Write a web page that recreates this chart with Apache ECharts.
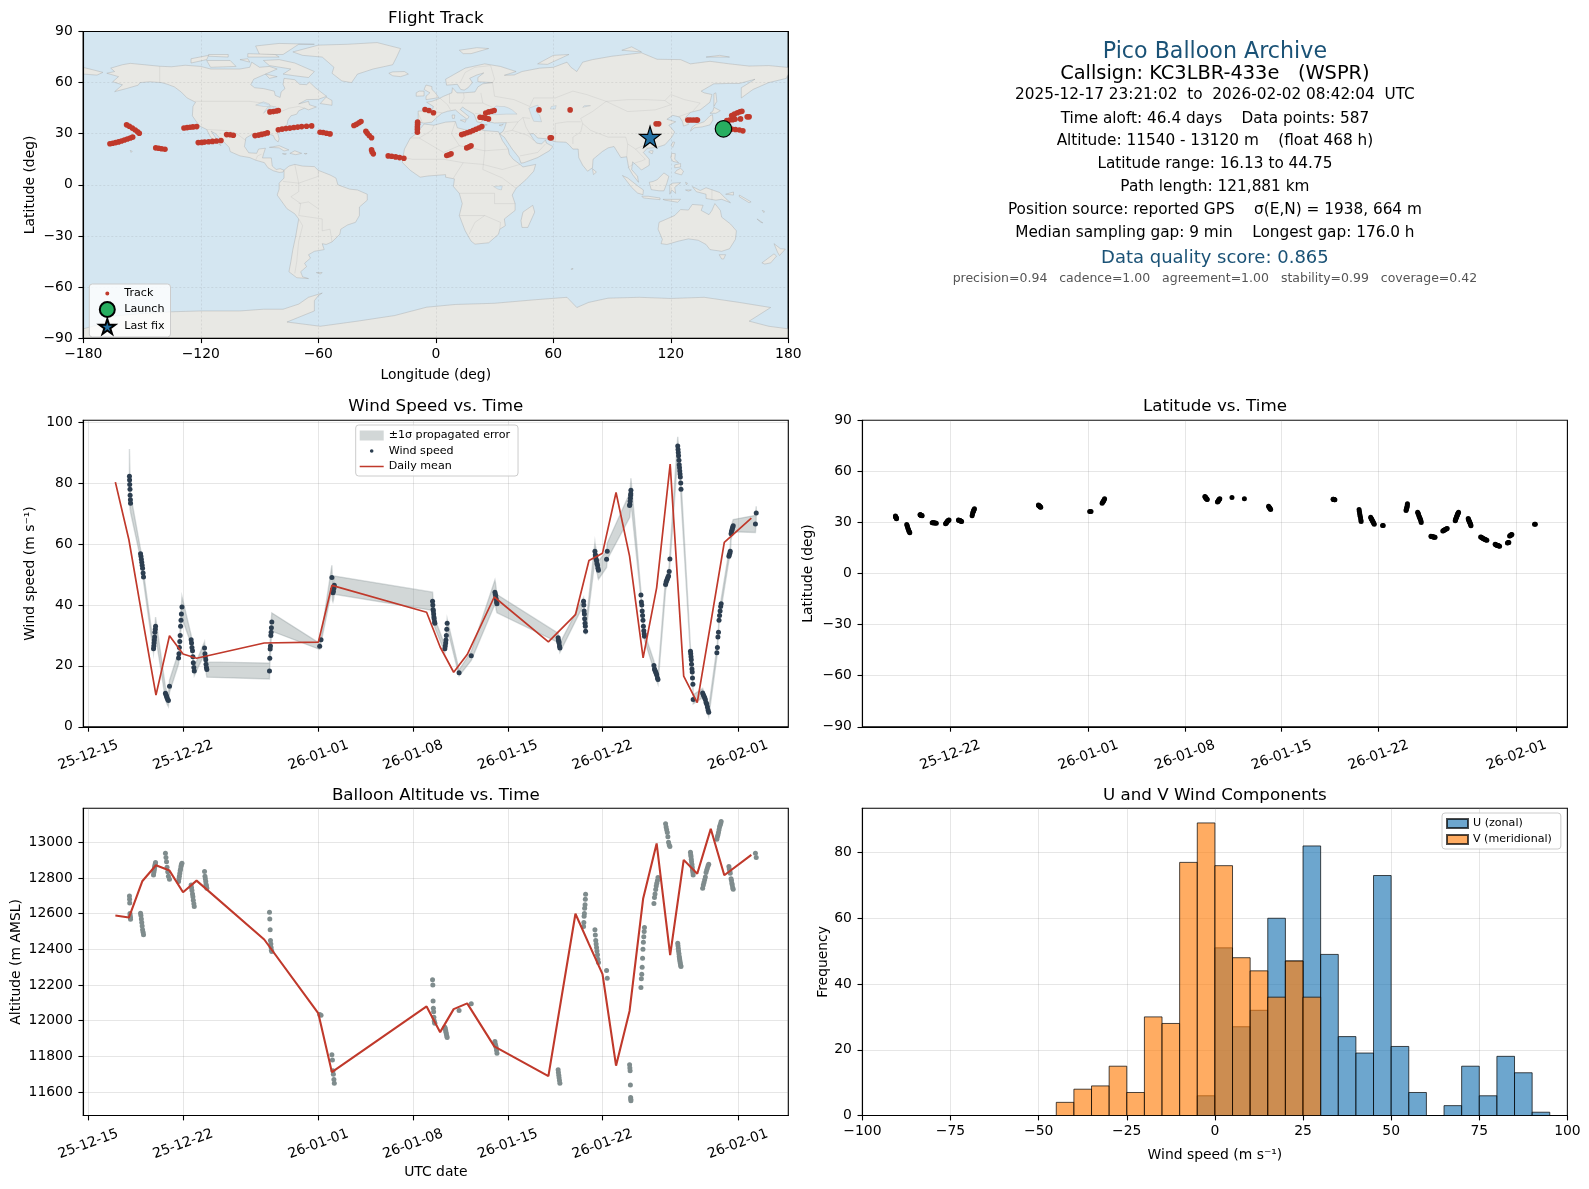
<!DOCTYPE html>
<html><head><meta charset="utf-8">
<style>html,body{margin:0;padding:0;background:#fff}#c{width:1589px;height:1189px}</style>
<script src="https://cdn.jsdelivr.net/npm/echarts@6/dist/echarts.min.js"></script>
</head><body><div id="c"></div>
<script>
// ---------- time samples (days relative to 2026-01-01 UTC), one per plotted fix ----------
const sampleDay = [
-13.96,-13.95,-13.94,-13.92,-13.91,-13.89,-13.88,
-13.14,-13.11,-13.08,-13.05,-13.02,-12.99,-12.95,-12.92,
-12.18,-12.16,-12.14,-12.12,-12.10,-12.08,-12.05,-12.03,
-11.30,-11.26,-11.22,-11.18,-11.13,-11.08,-11.00,
-10.33,-10.30,-10.27,-10.24,-10.21,-10.18,-10.15,-10.12,-10.08,
-9.40,-9.37,-9.34,-9.30,-9.27,-9.24,-9.20,-9.17,
-8.41,-8.38,-8.35,-8.32,-8.30,-8.27,-8.24,
-3.61,-3.59,-3.56,-3.54,-3.51,-3.49,-3.47,-3.44,
0.10,0.20,
1.00,1.04,1.08,1.11,1.15,1.18,
8.44,8.46,8.48,8.50,8.52,8.54,8.56,8.59,8.61,
9.35,9.38,9.41,9.43,9.46,9.49,9.52,
10.40,11.30,
13.05,13.08,13.11,13.14,13.17,13.20,
17.72,17.74,17.77,17.79,17.82,17.85,
19.60,19.62,19.64,19.66,19.68,19.71,19.73,19.75,
20.44,20.47,20.50,20.53,20.56,20.59,20.63,20.66,20.70,
21.30,21.35,
23.00,23.02,23.04,23.06,23.08,23.09,23.10,
23.84,23.87,23.90,23.93,23.96,23.99,24.02,24.05,24.08,24.10,
24.80,24.84,24.88,24.93,24.97,25.01,25.06,25.10,
25.66,25.70,25.74,25.79,25.83,25.88,25.93,25.98,
26.56,26.58,26.60,26.62,26.65,26.67,26.69,26.71,26.73,26.75,26.78,26.80,
27.50,27.52,27.54,27.56,27.58,27.61,27.63,27.65,27.68,27.70,
28.40,28.45,28.50,28.55,28.60,28.65,28.70,28.75,28.80,28.85,
29.45,29.49,29.53,29.57,29.61,29.65,29.69,29.73,29.77,
30.34,30.37,30.41,30.44,
30.50,30.53,30.56,30.59,30.62,30.66,
32.30,32.36];
const windSpeed = [
82.2,81,79.5,78,76,74.5,73.4,
56.8,56,55,54,53,52,50.5,49.2,
25.6,26.5,27.5,28.5,29.5,31,32,33,
11,10.5,10,9.5,9,8.6,13.3,
22.6,24,26,28,30,33,35,37,39.3,
28.6,27.5,26,25,23,21,19.5,18.3,
25.9,24,23,22,20.5,19.5,18.8,
18.3,22.5,25.5,26.5,30,31,32.5,34.4,
26.4,28.6,
49,45,44,44.5,45.5,46.5,
41.2,40,38.5,38,37,36,35.5,34.5,34,
25.6,26.5,27.5,28.5,30,32,34,
17.7,23.3,
44.2,43.5,43,42,41,40.4,
29.2,28.5,28,27.5,26.5,25.9,
41.2,40,38,37,35.5,34,33,31.4,
57.6,56.5,56,55,54.5,53.5,53,52,51.4,
55,57.6,
72.6,73,74,75,76,76.5,77.6,
43.3,41,40,38,36.5,35,33,31.5,30.5,29.7,
20.1,19,18.5,18,17.5,17,16,15.5,
46.7,47.5,48,48.5,49,49.5,51,55.1,
92.2,91,90,89,87.5,86,85,84,83,82,80,78,
24.8,24,23,22,20.5,19,18,16,14,9,
11.1,10.5,10,9.5,9,8,7.5,6.5,5.5,4.8,
24.3,26,29.5,31,35,36.5,38,39.5,40.4,
56,56.5,57,57.6,
63.4,64,64.5,65,65.5,66,
66.6,70.2];
const windSigma = [
9,8,7,5,4,3,3,
1.5,1.5,1.5,1.5,1.5,1.5,1.5,1.5,
1.5,1.5,1.5,1.5,2,2,2.5,3,
2,2,2,2,2,2,2,
2,2,2,2.5,2.5,2.5,3,3,3.5,
1.5,1.5,1.5,1.5,1.5,1.5,1.5,1.5,
2,2,2,2,2,2.5,2.5,
2.6,2.6,2.8,2.8,3,3,3,3,
1,1,
4,3.5,3,3,3,3,
3,3,2.5,2.5,2,2,2,1.5,1.5,
1.2,1.2,1.2,1.2,1.2,1.5,1.5,
1,1.5,
4,4,3.5,3.5,3,3,
1.5,1.5,1.5,1.5,1.5,1.5,
1.2,1.2,1.2,1.2,1.2,1.2,1.2,1.2,
3,3,3,3,3,3,3,3,3,
2.7,2.7,
4,4,4,4,4,4,4,
1.2,1.2,1.2,1.2,1.2,1.2,1.2,1.2,1.2,1.2,
1.5,1.5,1.5,1.5,1.5,1.5,1.5,1.5,
2,2,2,2,2,2,2,2,
3,3,3,3,3,3,3,3,3,3,3,3,
1.2,1.2,1.2,1.2,1.2,1.2,1.2,1.2,1.2,1.5,
1.5,1.5,1.5,1.5,1.5,1.5,1.5,1.5,1.5,1.5,
1.5,1.5,1.5,1.5,1.5,1.5,1.5,1.5,1.5,
1.5,1.5,1.5,1.5,
2,2,2,2,2,2,
2.8,2.2];
const altitude = [
12699,12680,12660,12600,12590,12580,12569,
12602,12590,12570,12550,12530,12510,12495,12481,
12817,12830,12840,12850,12860,12870,12880,12886,
12938,12915,12890,12860,12835,12810,12793,
12780,12795,12810,12825,12840,12850,12865,12875,12882,
12761,12745,12730,12710,12695,12675,12655,12640,
12836,12810,12795,12780,12765,12755,12742,
12608,12570,12510,12450,12430,12410,12395,12388,
12035,12030,
11809,11780,11720,11700,11670,11650,
12229,12200,12110,12070,12050,12020,12000,11990,11986,
11964,11955,11945,11935,11925,11915,11906,
12057,12095,
11884,11870,11860,11850,11835,11818,
11725,11710,11695,11680,11665,11650,
12528,12550,12585,12600,12630,12650,12680,12709,
12509,12480,12450,12430,12410,12390,12370,12345,12326,
12281,12238,
11753,11735,11720,11640,11570,11560,11552,
12186,12235,12260,12300,12350,12400,12440,12470,12500,12522,
12657,12690,12710,12735,12755,12770,12785,12802,
13103,13085,13070,13055,13030,13000,12985,12976,
12434,12420,12405,12390,12375,12360,12350,12340,12330,12320,12310,12304,
12944,12930,12920,12905,12890,12875,12860,12845,12830,12817,
12742,12760,12775,12790,12805,12830,12845,12855,12868,12877,
13017,13030,13040,13055,13070,13085,13095,13105,13116,
12864,12850,12838,12826,
12795,12785,12770,12760,12745,12737,
12938,12914];
const latitude = [
33.8,33.5,33.2,33,32.8,32.5,32.2,
28.8,28,27.3,26.5,25.8,25,24.5,24,
34.6,34.5,34.4,34.3,34.3,34.2,34.1,34,
29.9,29.9,29.8,29.8,29.7,29.7,29.6,
29.3,29.6,29.9,30.2,30.5,30.8,31,31.3,31.5,
31.4,31.3,31.2,31.1,31,30.9,30.7,30.5,
34,35,36,36.5,37,37.5,38,
40.2,40,39.8,39.6,39.5,39.3,39.1,39,
36.5,36.5,
41.3,41.8,42.3,42.8,43.3,43.9,
45.2,45,44.8,44.5,44.3,44.1,43.9,43.7,43.5,
42,42.3,42.6,43,43.3,43.7,44,
44.7,44,
39.5,39.1,38.8,38.4,38,37.6,
43.6,43.6,43.5,43.5,43.4,43.4,
37.6,36.6,35.6,34.6,33.6,32.6,31.5,30.5,
33,32.5,32,31.6,31.1,30.6,30.1,29.5,29,
28.2,28.2,
37,37.6,38.2,38.8,39.4,40.2,41,
36,35.4,34.8,34,33.4,32.8,32.2,31.6,30.8,30,
21.9,21.8,21.7,21.6,21.5,21.4,21.3,21.3,
25,25.2,25.4,25.6,25.8,26,26.3,26.5,
31,31.5,32,32.5,33,33.5,34,34.4,34.8,35.2,35.6,36,
32.3,31.9,31.5,31,30.6,30.2,29.7,29.2,28.6,28,
21.5,21.3,21,20.8,20.5,20.3,20.1,19.9,19.7,19.5,
17.2,17,16.8,16.6,16.5,16.4,16.3,16.2,16.1,
18,18.1,18.2,18.3,
22,22.2,22.4,22.6,22.8,23,
29,29];
// ---------- daily means ----------
const windMeanDay = [-15,-14,-13,-12,-11,-10,-9,-4,0,1,8,9,10,11,13,17,19,20,21,22,23,24,25,26,27,28,29,30,32];
const windMean = [80.3,61.4,35.7,10.4,29.9,23.9,22.5,27.5,27.8,46.4,37.6,26.2,17.9,23.7,42.6,27.9,36.8,54.6,57,76.9,56,22.6,45.6,86.2,16.6,7.9,34.1,60.5,68.5];
const altMeanDay = [-15,-14,-13,-12,-11,-10,-9,-4,0,1,8,9,10,11,13,17,19,20,21,22,23,24,25,26,27,28,29,30,32];
const altMean = [12589,12578,12783,12871,12841,12720,12785,12455,12041,11712,12080,11936,12065,12097,11856,11690,12599,12429,12261,11748,12055,12683,12993,12367,12901,12823,13075,12815,12929];
// ---------- histogram ----------
const binStart = [-45,-40,-35,-30,-25,-20,-15,-10,-5,0,5,10,15,20,25,30,35,40,45,50,55,60,65,70,75,80,85,90];
const binWidth = 5;
const uCounts = [0,0,0,0,0,0,0,0,6,51,27,32,60,47,82,49,24,19,73,21,7,0,3,15,6,18,13,1];
const vCounts = [4,8,9,15,7,30,28,77,89,76,48,44,36,47,36,0,0,0,0,0,0,0,0,0,0,0,0,0];
// ---------- tick labels ----------
const dateTicksLeft = [-17,-10,0,7,14,21,31];
const dateTicksRight = [-10,0,7,14,21,31];
const windTicks = [0,20,40,60,80,100];
const altTicks = [11600,11800,12000,12200,12400,12600,12800,13000];
const latTicks = [-90,-60,-30,0,30,60,90];
const lonTicks = [-180,-120,-60,0,60,120,180];
const histTicksX = [-100,-75,-50,-25,0,25,50,75,100];
const histTicksY = [0,20,40,60,80];
// ---------- flight track ----------
const trackPoints = [
[-166.4,24.1],[-165,24.4],[-163.5,24.8],[-162,25.2],[-160.5,25.7],[-159,26.3],[-157.5,26.9],[-156,27.5],[-154.8,28],
[-157.9,35.2],[-156.5,34.4],[-155,33.3],[-153.5,32.2],[-152.3,31.2],[-151.4,30.3],
[-143,21.7],[-141.5,21.5],[-140,21.2],[-138.3,20.9],
[-128.6,33.4],[-127,33.6],[-125.5,33.8],[-124,34],[-122.1,34.2],
[-121.3,24.8],[-119.5,24.9],[-118,25.1],[-116,25.3],[-114,25.5],[-112,25.7],[-109.7,26],
[-106.8,29.5],[-105,29.4],[-103.4,29.1],
[-92.3,28.9],[-90.5,29.2],[-89,29.6],[-87.5,30],[-86,30.5],
[-84.7,42.8],[-83,43],[-81.5,43.3],[-80.4,43.6],
[-80.4,32.3],[-78.5,32.7],[-76.5,33],[-74.5,33.3],[-72.5,33.7],[-70.5,33.9],[-68.5,34.2],[-66,34.4],[-63.4,34.6],
[-59.1,30.9],[-57.5,30.7],[-55.8,30.3],[-54,29.9],
[-41.8,34.8],[-40.5,35.5],[-39.2,36.4],[-38.2,37.2],
[-35.7,31.5],[-35,30.3],[-34,29],[-32.8,27.6],
[-32.8,20.5],[-32.5,19.3],[-31.9,18.2],
[-24.3,17],[-22.5,16.8],[-20.5,16.4],[-18.5,16],[-16.3,15.6],
[-9.3,36.8],[-9.3,35.5],[-9.4,34],[-9.4,32.5],[-9.4,30.9],
[-5.5,44.2],[-3.5,43.6],[-1.2,42.3],
[13.2,29.5],[14.5,30],[16,30.6],[17.5,31.2],[19,31.9],[20.5,32.6],[22,33.4],[23.5,34.2],
[5.6,17.2],[6.7,17.7],[7.8,18.2],
[15.8,21.7],[17,22.3],[18,22.9],
[22.6,39.7],[24,39.5],[25.5,39.1],[26.9,38.7],
[25.5,42.1],[27,42.8],[28.5,43.2],[29.8,43.6],
[52.7,44],[58.4,27.6],[59,27.6],[68.6,44],
[112.5,35.8],[113.8,35.8],
[128.7,38.1],[130,38.1],[131.5,38.1],[133,38.1],[133.6,38.1],
[148.6,37.8],[150,38],[151.5,38.2],[152.8,38.5],
[151.1,40.7],[152.5,41.5],[154,42.3],[155.3,42.9],[156.3,43.2],
[155.6,38.7],[159,39.9],[160,39.9],
[151.1,32.7],[153,32.5],[155,32.2],[156.8,31.7]];
const launchPoint = [146.9,32.9];
const lastFixPoint = [109.4,28.2];
// ---------- basemap, lon/lat rings ----------
const landPolygons = [
// North America
[[-168,65.5],[-164,66.5],[-166,68.5],[-160,70.5],[-156,71.3],[-148,70.4],[-141,69.6],[-135,69.3],[-128,70.2],[-120,69.5],[-115,68],[-108,68],[-100,68],[-95,69],[-94,72],[-90,69],[-85,69.5],[-81,68],[-87,65],[-93,62],[-94.5,58.8],[-92.5,57],[-88,56.5],[-82.5,55],[-82,52.5],[-79.5,51.3],[-79,54.5],[-77,56.5],[-78,59],[-77.5,62.5],[-72,61.7],[-69.5,59],[-66,58.8],[-64.5,60.3],[-61.5,57],[-57,53],[-55.7,52],[-60,50.2],[-66,50],[-70,47.5],[-65,49],[-64.5,47],[-61,45.7],[-65,44],[-67,45],[-70,43.5],[-71,41.5],[-74,40.5],[-75.5,38],[-76,35],[-79,33.5],[-81,31.5],[-80,27],[-80.5,25.2],[-82,26.5],[-83,29],[-85,29.7],[-89,30],[-90,29],[-94,29.5],[-97,27.5],[-97.7,22.5],[-95.5,18.8],[-91.5,18.5],[-90.5,21],[-87,21.5],[-88,18],[-88.5,15.8],[-84,15.8],[-83.5,11],[-81.5,9],[-79.5,9.5],[-77.5,8.6],[-78,7.5],[-80,7.3],[-83,8.3],[-85.7,10],[-87.5,13],[-92,14.5],[-95,16],[-100,17],[-105,19.5],[-105.5,22],[-109,26],[-112.5,30],[-114.7,31.5],[-112,27],[-109.7,23],[-112,25],[-115,28],[-117,32.5],[-120.5,34.5],[-122.5,37.5],[-124.3,40.5],[-124,46],[-122.7,48.5],[-127,51],[-130,54.5],[-133.5,57.5],[-137,59],[-140,60],[-146,60.5],[-151,60],[-152,58.5],[-158,56.5],[-164,54.7],[-160,58.7],[-165,60.5],[-162,63.5]],
// Arctic Canada
[[-80,73.5],[-72,71.5],[-67,69],[-62,66.5],[-65,63],[-72,64],[-78,65],[-74,68],[-85,70],[-88,73]],
[[-117,73],[-105,73],[-102,69.5],[-115,69]],
[[-125,74],[-116,76],[-117,73.5],[-125,71.5]],
[[-90,76.5],[-78,76.5],[-70,82.5],[-62,82.5],[-80,83],[-92,81.5]],
[[-96,75],[-80,75],[-82,76.5],[-96,77]],
[[-116,75.5],[-106,75],[-106,76.5],[-116,76.5]],
[[-87,65],[-81,63.5],[-85,62.5]],
[[-59,47.7],[-53,46.7],[-53,49.5],[-56,51.5]],
[[-100,73.5],[-95,72],[-96,74]],
// Greenland, Iceland
[[-73,78],[-68,76],[-58,75],[-52,69],[-53,65.5],[-48,61],[-43,60],[-40,65],[-32,68],[-22,70.5],[-20,75],[-18,80],[-30,83.5],[-45,82.5],[-60,82]],
[[-24,65.5],[-22,64],[-18,63.5],[-14,65],[-16,66.5],[-22,66.3]],
// Caribbean, Hawaii
[[-85,22],[-80,23],[-75,20.5],[-77.5,19.9],[-80,21.7]],
[[-74.5,18.5],[-72,20],[-68.5,18.5],[-71.5,17.7]],
[[-78.3,18.3],[-76.3,18.2],[-77,17.8]],
[[-67.2,18.4],[-65.7,18.4],[-66.5,18]],
[[-156,20.2],[-155,19.7],[-155.6,19]],
// South America
[[-77.5,8.6],[-75,11],[-72,12],[-68,11],[-62,10.7],[-60,8.5],[-54,5.8],[-51,4],[-50,0],[-44,-2.5],[-40,-3],[-35,-5.5],[-35,-9],[-39,-13],[-39,-18],[-41,-22],[-45,-23.5],[-48.5,-26],[-49,-29],[-53,-33.5],[-56,-35],[-58,-34.5],[-57,-38],[-62,-39],[-65,-41],[-64,-43],[-67,-46],[-66,-48],[-69,-51],[-68,-54],[-65,-55],[-71,-54.5],[-75,-51],[-74,-45],[-73,-38],[-71.5,-30],[-70,-20],[-72,-17],[-76,-14],[-81,-6],[-80,-2.5],[-80,1],[-77.5,4]],
[[-61,-51.5],[-58,-51.5],[-59,-52.3]],
// Africa
[[-6,35.7],[-1,35],[5,36.8],[10,37.2],[11,33.5],[15,32.3],[20,32],[21,33],[25,31.8],[32,31.2],[32.5,30],[34,26],[37,21],[37.5,18],[39.5,15],[43,12],[44.5,10.5],[51,12],[50,8],[46,3],[41,-2],[39,-6],[40.5,-11],[40.5,-15],[35,-20],[35.5,-24],[32.7,-26],[32,-29],[27,-34],[20,-34.8],[18,-33],[15,-27],[12,-18],[13.5,-11],[12,-5],[9,-1],[9.5,3.5],[5,4.5],[5,6],[-4,5.2],[-8,4.5],[-13,8.5],[-17,13],[-17,15],[-16,21],[-13,27.5],[-10,30]],
[[49.5,-12],[50.5,-16],[47,-25],[44,-25],[43.5,-21],[44.5,-16]],
// Eurasia
[[-9,37],[-6,36.2],[-2,36.8],[0,39],[3,42],[6,43.2],[10,44],[12.5,41.5],[16,38.5],[17,40],[12.5,44.2],[13.7,45.7],[15,44.5],[19.5,41.5],[21,37],[23,36.5],[24,38],[23,40.5],[26,40.8],[26,40],[27,37],[30,36.3],[36,36.5],[35,33],[34.3,31.3],[32.5,30],[35,28],[39,21],[42.5,16],[43.5,12.7],[45,13],[52,16],[58,20],[59.8,22.5],[56.5,24.5],[56,26.3],[54,24],[51.5,24.5],[50,26.5],[48,30],[50,30],[52,27.5],[56.5,27],[61,25.3],[66.5,25],[68,23.5],[70,21],[72.7,21],[73,16],[75,11.5],[77.5,8],[80,10],[80.3,15],[85,19.5],[88,21.7],[91,22.5],[94.5,16],[97.5,16.5],[98.5,10],[100.5,6],[103.5,1.5],[103,5],[100,9],[100.5,13.5],[103,11],[105,8.7],[109,11.5],[109,15],[106,19],[108,21.5],[113,22],[117,23.5],[120.5,28],[122,31],[119,35],[122.5,37],[118,38.5],[121,40.8],[124.5,39.8],[126,37],[126.5,34.5],[129,35.5],[127.5,39.5],[130,42.5],[135,44],[140,48.5],[141,53],[137,54],[135.5,55],[142,59.3],[150,59.5],[155,59.5],[163,62],[156,57],[156,51],[162,56],[170,60],[179,62.5],[180,65],[180,68.9],[170,70],[160,69.7],[150,71],[140,72.5],[130,71],[125,73.5],[113,73.7],[105,77.5],[90,75.5],[80,73.5],[75,72],[72,66.5],[69,69],[67,72],[60,69],[53,68.5],[44,66.5],[40,64.5],[35,64.3],[41,66.5],[33,69.5],[25,71],[15,68.5],[5,62],[5.5,58.5],[11,59],[12.7,56],[14.5,55.6],[16.5,57],[18.7,60],[17.3,62.5],[21,64.5],[24.5,65.7],[21.5,63],[21.5,60.5],[29,60],[24,59.3],[21.5,57.5],[20,54.5],[14,54],[10.8,54],[8.5,57],[8.2,54],[4,52],[1.5,50.5],[-2,49],[-4.7,48.5],[-1.2,46],[-2,43.4],[-9,43.3]],
[[-180,68.9],[-175,67.5],[-170,66],[-173,64.4],[-180,65]],
// Europe islands
[[-5,50],[1.5,51.2],[-0.2,54],[-2,56],[-2,57.7],[-5,58.6],[-6,56],[-3,54],[-5,52]],
[[-10,52],[-6,52.2],[-6,55],[-8.5,55],[-10,54]],
[[12,79],[21,80.5],[27,80],[18,77],[14,77]],
[[52,71],[57,70.7],[68,76.5],[60,76]],
[[95,79],[105,78],[100,81]],
[[138,75],[150,75],[145,76]],
[[12.5,38],[15.5,38.2],[15,36.7]],
[[8.3,41],[9.7,41],[9.5,39],[8.5,39]],
[[23.5,35.5],[26.3,35.2],[24.5,35]],
[[32.3,35],[34.5,35.6],[33.5,34.6]],
// Asia-Pacific islands
[[142,46],[143.5,49],[143,54],[142,53.5],[142,50]],
[[130,31.5],[132,33.5],[136,34],[140,35.2],[141.5,38],[141.3,41.2],[140,40.5],[137,37],[133,35.5],[131,34]],
[[140,42],[143,42],[145.3,43.5],[142,45.5],[141.5,43.3]],
[[120.2,23],[121,22],[122,25],[121,25.2]],
[[108.7,19.3],[110.5,18.2],[111,20],[109.5,20]],
[[120,16],[120.5,18.5],[122.3,18.3],[122,15],[124,13],[121,13.8]],
[[122,7],[125.5,5.8],[126.5,8],[125,9.7],[123,8.5]],
[[122,10],[125,10.5],[125,12.5],[122,11.7]],
[[109,1.5],[110,-2.8],[114,-3.5],[116.5,-3.5],[118,1],[119,5],[116.5,7],[113,3],[111,2]],
[[95.3,5.5],[98,4],[103.5,-1],[106,-3],[105.8,-5.8],[103,-4.8],[100,-1.5],[97,3]],
[[105.2,-6.7],[108.5,-6.7],[114.5,-7.7],[114.5,-8.7],[106,-7.7]],
[[119.5,-5.5],[120.5,-3],[122.5,-5],[122,-1.5],[125,1.3],[121,1],[119.5,0]],
[[131,-1],[135,-3.3],[138,-1.7],[145,-4.5],[148,-8],[150.5,-10.5],[146,-8.5],[143,-9],[138,-8],[138,-5.5],[133,-4]],
[[116,-8.5],[125,-8.5],[123.5,-10.2],[117,-9]],
[[127.5,-3],[130.5,-3],[129,-3.7]],
[[127.5,1.5],[128.5,1],[128,0]],
[[155,-6],[161,-10],[160,-10.5],[155,-7]],
[[148,-5.5],[152,-4.2],[152,-6]],
[[80,9.5],[82,7.5],[80.5,6]],
[[164,-20],[167,-22.3],[166,-22]],
[[166.7,-15],[167.8,-15.5],[167.5,-16.3]],
[[70,-49],[70,-49.5],[69,-49.5]],
// Australia, NZ
[[114,-22],[113.5,-26],[115.7,-32],[115,-34.5],[118,-35],[124,-33],[129,-31.7],[134,-32.5],[138,-35],[140,-38],[146,-39],[150,-37.5],[153,-32],[153.5,-27],[150.5,-23],[146,-19],[145.3,-15],[142.5,-11],[141,-15],[139.5,-17.5],[135.5,-15],[136.5,-12],[131,-11.5],[129,-14.8],[125,-14.5],[122,-18]],
[[144.7,-41],[148,-41],[147,-43.5],[146,-43.5]],
[[172.7,-34.5],[176,-37.5],[178.5,-37.7],[175.5,-41.5],[174.5,-39.5]],
[[172.7,-40.5],[174,-41.8],[171,-45.8],[168,-46.5],[166.5,-45.8]],
// Antarctica
[[-180,-90],[-180,-84.5],[-172,-82],[-165,-77],[-150,-75.5],[-135,-74.5],[-120,-74],[-100,-74],[-88,-73],[-78,-73],[-70,-70],[-65,-66],[-58,-63.5],[-60,-65],[-62,-68],[-62,-74],[-76,-80.5],[-59,-83],[-40,-80],[-21,-76.7],[-4.7,-71.8],[10,-70.2],[30,-69.5],[50,-67.5],[67,-66],[72,-72],[78,-69],[88,-66.5],[104,-66],[120,-66.7],[137,-66],[155,-69],[171,-72],[160,-80],[170,-83],[180,-84.5],[180,-90]]
];
// inland water drawn over the land
const waterPolygons = [
[[28,41.3],[31,41.2],[36,41.5],[41.5,41.5],[39,44],[37,45.2],[35,46],[33,46],[30.7,46.3],[28,43]],
[[47.5,45],[52,46.8],[53,45],[51,43],[53,41],[54,37],[50,37.3],[49,40]],
[[-92,46.8],[-88,48.7],[-85,47.5],[-84.5,46],[-88,46]],
[[-88,42],[-86,45.5],[-82,46],[-80,44.5],[-82.5,43],[-85,45]],
[[59,46],[61.5,46.5],[61,44.5],[58.5,44.5]],
[[76,46.5],[79,46.5],[75,45.5]],
[[29.5,-1],[34,-0.5],[33.5,-3],[31.7,-2.5]]
];
// a few national borders
const borderLines = [
[[-141,69.6],[-141,60]],[[-123,49],[-95,49],[-88,48],[-83,46],[-82,43],[-79,43],[-75,45],[-70,46],[-67,45]],
[[-117,32.5],[-106,31.8],[-101,29.5],[-97,26]],[[-92,14.5],[-91,17],[-89,18]],
[[-70,-18],[-69,-11],[-74,-7],[-70,-4],[-70,1],[-60,5],[-60,8.5]],[[-70,-18],[-58,-20],[-58,-27],[-54,-26],[-53,-33.5]],[[-70,-20],[-68,-24],[-70,-33],[-71,-45],[-72,-52]],[[-60,-14],[-65,-10],[-70,-11]],[[-78,2],[-70,1]],[[-72,12],[-70,1]],
[[-13,27.5],[-8.5,27.5],[-2,32],[-1,35]],[[-8.5,27.5],[4,19],[12,23],[25,20],[37,21]],[[25,31.8],[25,20],[24,9],[34,4],[41,-2]],[[9,4],[14,13],[4,15],[-12,15],[-16,16]],[[14,13],[24,12],[34,9],[43,12]],[[12,-5],[30,-5],[30,-11],[40.5,-11]],[[12,-18],[25,-18],[33,-22],[32.7,-26]],[[17,-29],[20,-22],[25,-18]],[[10,37],[8,30],[12,23]],
[[2,51],[6,47],[7.5,44]],[[7,53.5],[7,48],[13,48],[14.5,51],[14.2,54]],[[23,54],[24,48],[29,45.5]],[[29,60],[30,52],[40,50],[48,46]],[[13,48],[17,48],[24,48]],[[20,42],[26,41],[28,42]],[[-9,42],[-7,37]],[[-2,43],[3,42.4]],[[28,70],[30,62],[29,60]],[[12.5,60],[15,66],[20,69],[28,70]],
[[48,46],[50,51],[61,51],[70,55],[77,53],[87,49]],[[87,49],[98,50],[107,50],[117,49.5],[120,53],[127,50],[135,48],[131,43]],[[87,49],[80,43],[74,39],[75,36],[79,32],[88,28],[97,28],[98,24],[102,21],[106,23],[108,21.5]],[[87,49],[98,43],[112,44],[120,47],[117,49.5]],[[61,36],[67,37],[74,37]],[[61,36],[61,31],[61,25.3]],[[75,36],[74,31],[70,28],[70,24]],[[36,36.5],[42,37],[44.5,39.5],[48,39]],[[44.5,39.5],[46,34],[48,30]],[[35,31],[39,32],[42,37]],[[39,32],[47,29],[50,26]],[[43,17],[52,19],[56,24]],[[97.5,16.5],[98,24]],[[98,10],[102,13],[105,14],[107,15],[102,21]],[[124,40],[130,42.5]],[[126,38],[128.5,38.3]],
[[141,-2.6],[141,-9]]
];

// ---------- helpers ----------
const DAY = 864e5, EPOCH = Date.UTC(2026,0,1);
const pad = n => String(n).padStart(2,'0');
const fmtDate = v => { const t=new Date(EPOCH+v*DAY); return pad(t.getUTCFullYear()%100)+'-'+pad(t.getUTCMonth()+1)+'-'+pad(t.getUTCDate()); };
const minus = v => String(v).replace('-','\u2212');
const FONT = 'DejaVu Sans';
const black = '#000';
const gridColor = 'rgba(128,128,128,0.2)';
const mapGrid = 'rgba(128,128,128,0.22)';
const TICK = 13.9;
const red = '#c0392b';

const G = {
  map:{left:83.3,top:31.5,width:705,height:306.7},
  wind:{left:83.3,top:420.3,width:705,height:306.5},
  lat:{left:862.4,top:420.3,width:705,height:306.5},
  alt:{left:83.3,top:808.3,width:705,height:307.2},
  hist:{left:862.4,top:808.3,width:705,height:307.2}
};
const center = g => g.left + g.width/2;

function vAxis(gridIndex,min,max,ticks,name,gap,extra){
  return Object.assign({
    type:'value',gridIndex,min,max,scale:true,
    name,nameLocation:'middle',nameGap:gap,
    nameTextStyle:{fontFamily:FONT,fontSize:TICK,color:black},
    axisLine:{show:true,onZero:false,lineStyle:{color:black,width:1.1}},
    axisTick:{show:true,length:4.9,inside:false,customValues:ticks,lineStyle:{color:black,width:1.1}},
    axisLabel:{show:true,margin:10.5,padding:[3,0,0,0],customValues:ticks,fontFamily:FONT,fontSize:TICK,color:black,formatter:v=>minus(v)},
    splitLine:{show:true,lineStyle:{color:gridColor,width:1}}
  },extra||{});
}
function tAxis(gridIndex,minD,maxD,ticks,name){
  return {
    type:'value',gridIndex,min:minD,max:maxD,scale:true,position:'bottom',
    name:name||'',nameLocation:'middle',nameGap:50,
    nameTextStyle:{fontFamily:FONT,fontSize:TICK,color:black},
    axisLine:{show:true,onZero:false,lineStyle:{color:black,width:1.1}},
    axisTick:{show:true,length:4.9,customValues:ticks,lineStyle:{color:black,width:1.1}},
    axisLabel:{show:true,rotate:20,align:'center',verticalAlign:'middle',margin:28.5,hideOverlap:false,customValues:ticks,fontFamily:FONT,fontSize:TICK,color:black,formatter:v=>fmtDate(v)},
    splitLine:{show:true,lineStyle:{color:gridColor,width:1}}
  };
}
const polyItem = (ring,api,style) => ({type:'polygon',shape:{points:ring.map(p=>api.coord(p))},style});
const titleAt = (text,x,y,size,color) => ({text,left:x,top:y,textAlign:'center',textVerticalAlign:'middle',padding:0,
  textStyle:{fontFamily:FONT,fontSize:size,color:color||black,fontWeight:'normal'}});

const infoLines = [
  ['Pico Balloon Archive',52.5,22.2,'#1a5276'],
  ['Callsign: KC3LBR-433e   (WSPR)',74,19.4,black],
  ['2025-12-17 23:21:02  to  2026-02-02 08:42:04  UTC',95,15.3,black],
  ['Time aloft: 46.4 days    Data points: 587',118.6,15.3,black],
  ['Altitude: 11540 - 13120 m    (float 468 h)',141,15.3,black],
  ['Latitude range: 16.13 to 44.75',164,15.3,black],
  ['Path length: 121,881 km',187.5,15.3,black],
  ['Position source: reported GPS    \u03c3(E,N) = 1938, 664 m',209.8,15.3,black],
  ['Median sampling gap: 9 min    Longest gap: 176.0 h',233,15.3,black],
  ['Data quality score: 0.865',258,18,'#1a5276'],
  ['precision=0.94   cadence=1.00   agreement=1.00   stability=0.99   coverage=0.42',278.5,12.5,'#555555']
];

const windData = sampleDay.map((d,i)=>[d,windSpeed[i]]);
const altData = sampleDay.map((d,i)=>[d,altitude[i]]);
const latData = sampleDay.map((d,i)=>[d,latitude[i]]);
const legendBase = {orient:'vertical',selectedMode:false,backgroundColor:'rgba(255,255,255,0.8)',borderColor:'#cccccc',borderWidth:1,borderRadius:3,
  textStyle:{fontFamily:FONT,fontSize:11.1,color:black}};
const dotIn24x10 = 'path://M0 0h.01M24 10h.01M10.2 5a1.8 1.8 0 1 0 3.6 0a1.8 1.8 0 1 0 -3.6 0z';
const dotIn24x15 = 'path://M0 0h.01M24 15h.01M10 7.5a2 2 0 1 0 4 0a2 2 0 1 0 -4 0z';
const barIn24x10 = 'path://M0 0h.01M24 10h.01M0 4.2h24v1.6h-24z';
const starPath = 'path://M50 0L61 35H98L68 57L79 91L50 70L21 91L32 57L2 35H39Z';

const histSeries = (name,counts,fill,stroke,z) => ({
  type:'custom',name,xAxisIndex:4,yAxisIndex:4,z,
  itemStyle:{color:fill,borderColor:stroke,borderWidth:1},
  encode:{x:[0,1],y:2},
  data:binStart.map((b,i)=>[b,b+binWidth,counts[i]]),
  renderItem:(p,api)=>{
    if(!api.value(2)) return null;
    const a=api.coord([api.value(0),0]), b=api.coord([api.value(1),api.value(2)]);
    return {type:'rect',shape:{x:a[0],y:b[1],width:b[0]-a[0],height:a[1]-b[1]},style:{fill,stroke,lineWidth:1}};
  }
});
const xValLabel = ticks => ({show:true,margin:9,customValues:ticks,fontFamily:FONT,fontSize:TICK,color:black,formatter:v=>minus(v)});

const option = {
  animation:false,
  backgroundColor:'#fff',
  title:[
    titleAt('Flight Track',center(G.map),18.8,16.7),
    titleAt('Wind Speed vs. Time',center(G.wind),406.6,16.7),
    titleAt('Latitude vs. Time',center(G.lat),406.6,16.7),
    titleAt('Balloon Altitude vs. Time',center(G.alt),795.6,16.7),
    titleAt('U and V Wind Components',center(G.hist),795.6,16.7)
  ].concat(infoLines.map(l=>titleAt(l[0],center(G.lat),l[1],l[2],l[3]))),
  grid:[
    Object.assign({show:true,backgroundColor:'#d4e6f1',borderColor:black,borderWidth:1.1},G.map),
    Object.assign({show:true,borderColor:black,borderWidth:1.1},G.wind),
    Object.assign({show:true,borderColor:black,borderWidth:1.1},G.lat),
    Object.assign({show:true,borderColor:black,borderWidth:1.1},G.alt),
    Object.assign({show:true,borderColor:black,borderWidth:1.1},G.hist)
  ],
  xAxis:[
    vAxis(0,-180,180,lonTicks,'Longitude (deg)',30,{z:1,position:'bottom',axisLabel:xValLabel(lonTicks),splitLine:{show:true,lineStyle:{color:mapGrid,width:0.7,type:[2,2]}}}),
    tAxis(1,-17.37,34.73,dateTicksLeft),
    tAxis(2,-16.35,34.68,dateTicksRight),
    tAxis(3,-17.37,34.73,dateTicksLeft,'UTC date'),
    vAxis(4,-100,100,histTicksX,'Wind speed (m s\u207b\u00b9)',33,{position:'bottom',axisLabel:xValLabel(histTicksX)})
  ],
  yAxis:[
    vAxis(0,-90,90,latTicks,'Latitude (deg)',46,{z:1,splitLine:{show:true,lineStyle:{color:mapGrid,width:0.7,type:[2,2]}}}),
    vAxis(1,0,100.6,windTicks,'Wind speed (m s\u207b\u00b9)',46),
    vAxis(2,-90,90,latTicks,'Latitude (deg)',47),
    vAxis(3,11469,13190,altTicks,'Altitude (m AMSL)',60),
    vAxis(4,0,93.45,histTicksY,'Frequency',32)
  ],
  legend:[
    Object.assign({},legendBase,{left:89.3,top:284,padding:[2,6,2,6],itemWidth:24,itemHeight:15,itemGap:0,
      data:[{name:'Track',icon:dotIn24x15},{name:'Launch',icon:'circle'},{name:'Last fix',icon:starPath}]}),
    Object.assign({},legendBase,{left:355.7,top:425,padding:[5,8,4,4],itemWidth:24,itemHeight:10,itemGap:4.5,
      data:[{name:'\u00b11\u03c3 propagated error',icon:'rect'},{name:'Wind speed',icon:dotIn24x10},{name:'Daily mean',icon:barIn24x10}]}),
    Object.assign({},legendBase,{left:1442,top:813,padding:[5,9,4,4],itemWidth:21,itemHeight:9,itemGap:5,
      data:[{name:'U (zonal)',icon:'rect'},{name:'V (meridional)',icon:'rect'}]})
  ],
  series:[
    // basemap
    {type:'custom',name:'land',xAxisIndex:0,yAxisIndex:0,z:0,silent:true,clip:true,
      data:landPolygons.map((_,i)=>[i]),encode:{x:-1,y:-1},
      renderItem:(p,api)=>polyItem(landPolygons[p.dataIndex],api,{fill:'#e8e8e4',stroke:'rgba(150,150,150,0.55)',lineWidth:0.6})},
    {type:'custom',name:'water',xAxisIndex:0,yAxisIndex:0,z:0,silent:true,clip:true,
      data:waterPolygons.map((_,i)=>[i]),encode:{x:-1,y:-1},
      renderItem:(p,api)=>polyItem(waterPolygons[p.dataIndex],api,{fill:'#d4e6f1',stroke:'rgba(150,150,150,0.45)',lineWidth:0.5})},
    {type:'custom',name:'borders',xAxisIndex:0,yAxisIndex:0,z:0,silent:true,clip:true,
      data:borderLines.map((_,i)=>[i]),encode:{x:-1,y:-1},
      renderItem:(p,api)=>({type:'polyline',shape:{points:borderLines[p.dataIndex].map(q=>api.coord(q))},style:{fill:null,stroke:'rgba(170,170,170,0.35)',lineWidth:0.6}})},
    {type:'scatter',name:'Track',xAxisIndex:0,yAxisIndex:0,z:3,symbol:'circle',symbolSize:5.6,itemStyle:{color:red,opacity:1},data:trackPoints},
    {type:'scatter',name:'Launch',xAxisIndex:0,yAxisIndex:0,z:4,symbol:'circle',symbolSize:16.5,itemStyle:{color:'#27ae60',borderColor:black,borderWidth:1.2,opacity:1},data:[launchPoint]},
    {type:'scatter',name:'Last fix',xAxisIndex:0,yAxisIndex:0,z:5,symbol:starPath,symbolSize:21,itemStyle:{color:'#2471a3',borderColor:black,borderWidth:1.2,opacity:1},data:[lastFixPoint]},
    // wind
    {type:'custom',name:'\u00b11\u03c3 propagated error',xAxisIndex:1,yAxisIndex:1,z:2,clip:true,
      itemStyle:{color:'rgba(127,140,141,0.35)'},
      data:sampleDay.map((d,i)=>[d,windSpeed[i]-windSigma[i],windSpeed[i]+windSigma[i]]),
      encode:{x:0,y:[1,2]},
      renderItem:(p,api)=>{
        if(p.dataIndex!==0) return null;
        const up=sampleDay.map((d,i)=>api.coord([d,windSpeed[i]+windSigma[i]]));
        const lo=sampleDay.map((d,i)=>api.coord([d,windSpeed[i]-windSigma[i]])).reverse();
        return {type:'polygon',shape:{points:up.concat(lo)},style:{fill:'rgba(127,140,141,0.35)',stroke:'rgba(127,140,141,0.3)',lineWidth:1.4}};
      }},
    {type:'scatter',name:'Wind speed',xAxisIndex:1,yAxisIndex:1,z:3,symbol:'circle',symbolSize:5,itemStyle:{color:'#2c3e50',opacity:1},data:windData},
    {type:'line',name:'Daily mean',xAxisIndex:1,yAxisIndex:1,z:4,symbol:'none',lineStyle:{color:red,width:1.7},itemStyle:{color:red},data:windMeanDay.map((d,i)=>[d,windMean[i]])},
    // latitude
    {type:'scatter',name:'lat',xAxisIndex:2,yAxisIndex:2,z:3,symbol:'circle',symbolSize:5,itemStyle:{color:black,opacity:1},data:latData},
    // altitude
    {type:'scatter',name:'alt',xAxisIndex:3,yAxisIndex:3,z:3,symbol:'circle',symbolSize:5,itemStyle:{color:'#7f8c8d',opacity:1},data:altData},
    {type:'line',name:'altMean',xAxisIndex:3,yAxisIndex:3,z:4,symbol:'none',lineStyle:{color:red,width:2.1},data:altMeanDay.map((d,i)=>[d,altMean[i]])},
    // histogram
    histSeries('U (zonal)',uCounts,'rgba(31,119,180,0.65)','rgba(0,0,0,0.7)',2),
    histSeries('V (meridional)',vCounts,'rgba(255,127,14,0.65)','rgba(0,0,0,0.7)',3)
  ],
  graphic:[{type:'rect',silent:true,z:100,shape:{x:G.map.left,y:G.map.top,width:G.map.width,height:G.map.height},style:{fill:null,stroke:black,lineWidth:1.1}}]
};
const chart = echarts.init(document.getElementById('c'),null,{renderer:'canvas',width:1589,height:1189});
chart.setOption(option);
</script></body></html>
